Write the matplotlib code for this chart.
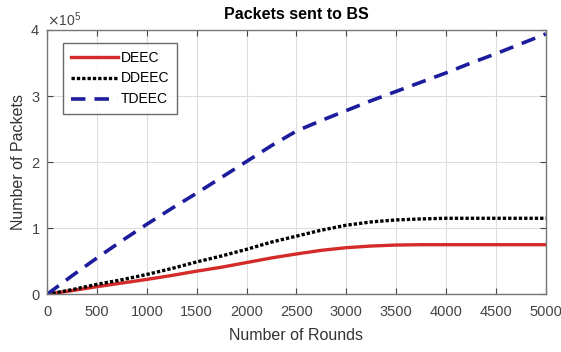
import matplotlib.pyplot as plt
from matplotlib.ticker import ScalarFormatter

rounds = [0, 250, 500, 750, 1000, 1250, 1500, 1750, 2000, 2250, 2500, 2750,
          3000, 3250, 3500, 3750, 4000, 4250, 4500, 4750, 5000]
deec = [0, 5500, 11500, 17000, 22500, 28500, 35000, 41000, 48000, 55000, 61000,
        66500, 70500, 73000, 74500, 75000, 75000, 75000, 75000, 75000, 75000]
ddeec = [0, 7000, 15000, 22000, 30000, 39000, 49000, 58000, 68000, 79000, 88000,
         97000, 104500, 109500, 112500, 114000, 115000, 115000, 115000, 115000, 115000]
tdeec = [0, 28000, 55000, 81000, 106000, 130000, 153000, 177000, 201000, 225000, 247000,
         263000, 278000, 293000, 307000, 321000, 335000, 350000, 364000, 379000, 394000]

plt.rcParams['font.family'] = ['Liberation Sans', 'DejaVu Sans']

fig = plt.figure(figsize=(5.61, 3.52), dpi=100)
ax = fig.add_axes([0.084, 0.164, 0.889, 0.751])

ax.plot(rounds, deec, color='#d42a2a', lw=2.4, label='DEEC')
ax.plot(rounds, ddeec, color='black', lw=2.4, linestyle=(0, (1, 0.6)), label='DDEEC')
ax.plot(rounds, tdeec, color='#1c1c9c', lw=2.6, linestyle=(0, (4, 2.5)), label='TDEEC')

ax.set_xlim(0, 5000)
ax.set_ylim(0, 400000)
ax.set_xticks(range(0, 5001, 500))
ax.set_yticks([0, 100000, 200000, 300000, 400000])
fmt = ScalarFormatter(useMathText=True)
fmt.set_powerlimits((0, 0))
ax.yaxis.set_major_formatter(fmt)
ax.yaxis.get_offset_text().set_fontsize(10)
ax.yaxis.get_offset_text().set_color('#444444')

ax.grid(True, color='#dddddd', lw=0.8)
ax.tick_params(direction='in', top=True, right=True, labelsize=10.5,
               colors='#444444', length=4)
ax.tick_params(axis='x', pad=8)
ax.tick_params(axis='y', pad=5)
for s in ax.spines.values():
    s.set_color('#777777')
    s.set_linewidth(1.0)

ax.set_xlabel('Number of Rounds', fontsize=11.5, color='#333333', labelpad=6)
ax.set_ylabel('Number of Packets', fontsize=11.5, color='#333333', labelpad=3)
ax.set_title('Packets sent to BS', fontsize=11.5, fontweight='bold', pad=8)

leg = ax.legend(loc='upper left', bbox_to_anchor=(0.032, 0.951), fontsize=10,
                frameon=True, fancybox=False, handlelength=3.4, handletextpad=0.2,
                borderpad=0.55, labelspacing=0.5, borderaxespad=0)
leg.get_frame().set_edgecolor('#444444')
leg.get_frame().set_linewidth(1.0)

fig.savefig('out.png', dpi=100)
